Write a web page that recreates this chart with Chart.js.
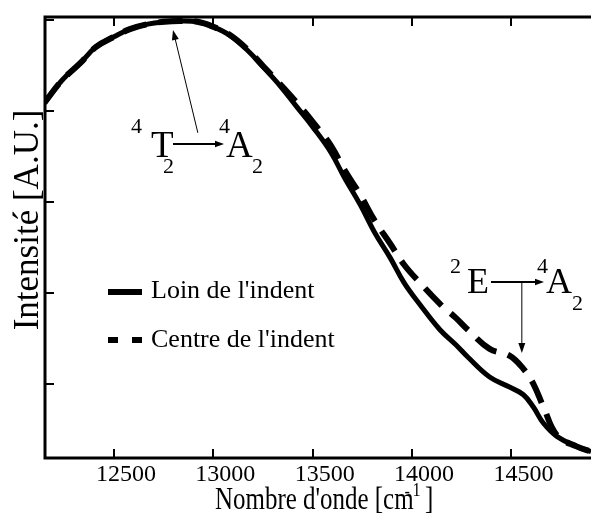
<!DOCTYPE html>
<html>
<head>
<meta charset="utf-8">
<script src="https://cdn.jsdelivr.net/npm/chart.js@4"></script>
<style>
  html, body { margin: 0; padding: 0; background: #fff; }
  #wrap { width: 591px; height: 516px; }
</style>
</head>
<body>
<div id="wrap"><canvas id="spectre" width="591" height="516"></canvas></div>
<script>
// Wavenumber (cm-1) and normalised luminescence intensity
const wavenumbers = [12150, 12240, 12330, 12410, 12500, 12580, 12670, 12750, 12830, 12920,
  13000, 13080, 13170, 13250, 13340, 13420, 13500, 13590, 13660, 13740,
  13810, 13890, 13960, 14040, 14140, 14220, 14280, 14390, 14490, 14560,
  14610, 14660, 14730, 14830, 14900];
const loinIndent = [0.818, 0.868, 0.905, 0.941, 0.963, 0.980, 0.991, 0.996, 0.998, 0.996,
  0.985, 0.967, 0.934, 0.897, 0.853, 0.809, 0.765, 0.710, 0.653, 0.593,
  0.534, 0.477, 0.422, 0.374, 0.319, 0.286, 0.259, 0.215, 0.193, 0.176,
  0.149, 0.114, 0.084, 0.062, 0.051];
const centreIndent = [0.818, 0.868, 0.905, 0.941, 0.963, 0.980, 0.991, 0.996, 0.998, 0.996,
  0.985, 0.968, 0.936, 0.899, 0.857, 0.818, 0.776, 0.725, 0.670, 0.615,
  0.560, 0.508, 0.462, 0.422, 0.376, 0.345, 0.319, 0.277, 0.262, 0.233,
  0.200, 0.150, 0.086, 0.062, 0.051];
const xTicks = [12500, 13000, 13500, 14000, 14500];
const yTicks = [0.2, 0.4, 0.6, 0.8, 1.0];
const seriesNames = ["Loin de l'indent", "Centre de l'indent"];

const serif = '"Liberation Serif", "Times New Roman", serif';

function pairs(ys) {
  return wavenumbers.map((x, i) => ({ x: x, y: ys[i] }));
}

function text(ctx, s, x, y, size, sx) {
  ctx.save();
  ctx.font = size + 'px ' + serif;
  ctx.translate(x, y);
  ctx.scale(sx || 1, 1);
  ctx.fillText(s, 0, 0);
  const w = ctx.measureText(s).width * (sx || 1);
  ctx.restore();
  return w;
}

function arrow(ctx, x1, y1, x2, y2, width, head) {
  const a = Math.atan2(y2 - y1, x2 - x1);
  ctx.save();
  ctx.lineWidth = width;
  ctx.beginPath();
  ctx.moveTo(x1, y1);
  ctx.lineTo(x2 - Math.cos(a) * head * 0.8, y2 - Math.sin(a) * head * 0.8);
  ctx.stroke();
  ctx.beginPath();
  ctx.moveTo(x2, y2);
  ctx.lineTo(x2 - Math.cos(a) * head + Math.sin(a) * head * 0.35, y2 - Math.sin(a) * head - Math.cos(a) * head * 0.35);
  ctx.lineTo(x2 - Math.cos(a) * head - Math.sin(a) * head * 0.35, y2 - Math.sin(a) * head + Math.cos(a) * head * 0.35);
  ctx.closePath();
  ctx.fill();
  ctx.restore();
}

// frame, inward ticks, labels, legend and transition annotations
const decorations = {
  id: 'decorations',
  afterDatasetsDraw(chart) {
    const ctx = chart.ctx;
    const area = chart.chartArea;
    const xs = chart.scales.x;
    const ys = chart.scales.y;
    ctx.save();
    ctx.strokeStyle = '#000';
    ctx.fillStyle = '#000';
    ctx.lineCap = 'butt';

    // frame
    ctx.lineWidth = 3;
    ctx.beginPath();
    ctx.moveTo(area.right, area.top);
    ctx.lineTo(area.left, area.top);
    ctx.lineTo(area.left, area.bottom);
    ctx.lineTo(area.right, area.bottom);
    ctx.stroke();

    ctx.lineWidth = 2;
    xTicks.forEach(v => {
      const px = Math.round(xs.getPixelForValue(v));
      ctx.beginPath();
      ctx.moveTo(px, area.bottom);
      ctx.lineTo(px, area.bottom - 9);
      ctx.moveTo(px, area.top);
      ctx.lineTo(px, area.top + 9);
      ctx.stroke();
    });
    yTicks.forEach(v => {
      const py = Math.round(ys.getPixelForValue(v));
      ctx.beginPath();
      ctx.moveTo(area.left, py);
      ctx.lineTo(area.left + 9, py);
      ctx.stroke();
    });

    // tick labels
    ctx.textAlign = 'center';
    ctx.textBaseline = 'alphabetic';
    xTicks.forEach(v => {
      const px = xs.getPixelForValue(v) + 12;
      text(ctx, String(v), px, 481, 24);
    });

    // axis titles
    ctx.textAlign = 'left';
    let x = 215;
    x += text(ctx, "Nombre d'onde [cm", x, 509, 32, 0.78);
    text(ctx, '-', x - 9, 497, 18, 0.9);
    x += text(ctx, '1', x - 1, 496, 18, 0.9);
    text(ctx, ' ]', x - 3, 509, 32, 0.78);

    ctx.save();
    ctx.translate(38, 220);
    ctx.rotate(-Math.PI / 2);
    ctx.textAlign = 'center';
    text(ctx, 'Intensité [A.U.]', 0, 0, 35);
    ctx.restore();

    // legend
    const ds = chart.data.datasets;
    ctx.lineWidth = 6;
    ctx.beginPath();
    ctx.moveTo(108, 292);
    ctx.lineTo(142, 292);
    ctx.stroke();
    ctx.setLineDash([10, 14]);
    ctx.beginPath();
    ctx.moveTo(108, 340);
    ctx.lineTo(142, 340);
    ctx.stroke();
    ctx.setLineDash([]);
    text(ctx, ds[0].label, 151, 298, 26);
    text(ctx, ds[1].label, 151, 347, 26);

    // 4T2 -> 4A2 band
    text(ctx, '4', 131, 133, 22);
    text(ctx, 'T', 151, 157, 37);
    text(ctx, '2', 163, 173, 22);
    arrow(ctx, 173, 144, 224, 144, 2, 9);
    text(ctx, '4', 219, 133, 22);
    text(ctx, 'A', 226, 157, 37);
    text(ctx, '2', 252, 173, 22);
    arrow(ctx, xs.getPixelForValue(12922), ys.getPixelForValue(0.752),
      xs.getPixelForValue(12797), ys.getPixelForValue(0.978), 1, 10);

    // 2E -> 4A2 line
    text(ctx, '2', 450, 273, 22);
    text(ctx, 'E', 467, 293, 36);
    arrow(ctx, 491, 282, 544, 282, 2, 9);
    text(ctx, '4', 537, 273, 22);
    text(ctx, 'A', 546, 293, 36);
    text(ctx, '2', 572, 310, 22);
    const ex = xs.getPixelForValue(14552);
    arrow(ctx, ex, 283, ex, ys.getPixelForValue(0.268), 1, 10);

    ctx.restore();
  }
};

new Chart(document.getElementById('spectre'), {
  type: 'line',
  data: {
    datasets: [{
      label: seriesNames[0],
      data: pairs(loinIndent),
      borderColor: '#000',
      borderWidth: 5,
      tension: 0.4,
      pointRadius: 0,
      fill: false
    }, {
      label: seriesNames[1],
      data: pairs(centreIndent),
      borderColor: '#000',
      borderWidth: 6,
      borderDash: [24, 12],
      tension: 0.4,
      pointRadius: 0,
      fill: false
    }]
  },
  options: {
    responsive: false,
    devicePixelRatio: 1,
    animation: false,
    layout: { padding: { left: 45, top: 17, right: 0, bottom: 58 } },
    scales: {
      x: { type: 'linear', min: 12153, max: 14900, display: false },
      y: { min: 0.037, max: 1.0066, display: false }
    },
    plugins: {
      legend: { display: false },
      tooltip: { enabled: false }
    }
  },
  plugins: [decorations]
});
</script>
</body>
</html>
